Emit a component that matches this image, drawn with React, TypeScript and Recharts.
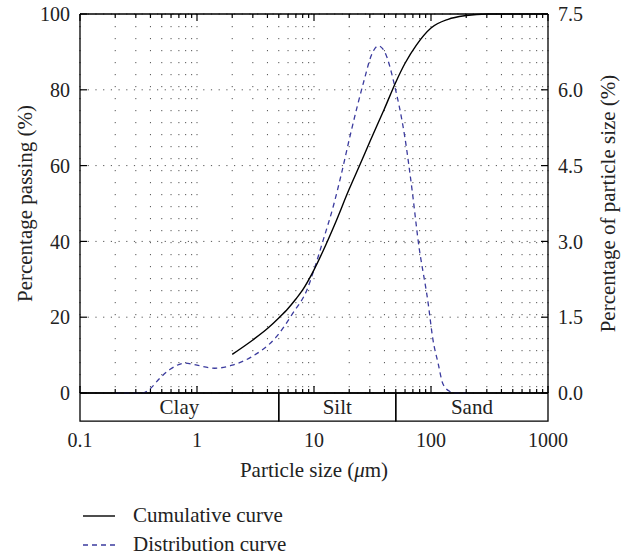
import React from 'react';
import { ComposedChart, Line, XAxis, YAxis, CartesianGrid, ReferenceArea } from 'recharts';

// Cumulative curve (particle size in µm, percentage passing)
const cumulativeSize = [2, 3, 4, 5, 6, 7, 8, 10, 12, 15, 20, 25, 30, 40, 50, 60, 75, 100, 140, 200, 300, 1000];
const cumulativePassing = [10.2, 14, 17, 19.8, 22.3, 24.8, 27.2, 32.5, 37.6, 44.4, 53.8, 60.6, 66.3, 75, 82, 87, 91.8, 96.3, 98.6, 99.6, 100, 100];

// Distribution curve (particle size in µm, percentage of particle size)
const distributionSize = [
  0.2, 0.34, 0.4, 0.48, 0.59, 0.79, 1.0, 1.42, 2.0, 2.9, 4.8, 6.6, 8.7, 10.2, 12, 14.6, 17.2, 20.3,
  26.9, 31, 35.4, 40, 49, 59.6, 70, 77.5, 94.5, 104, 115, 126, 145, 160, 200,
];
const distributionPercent = [
  0, 0, 0.09, 0.29, 0.47, 0.59, 0.55, 0.49, 0.55, 0.71, 1.12, 1.58, 2.04, 2.5, 3.03, 3.69, 4.35, 5.08,
  6.2, 6.69, 6.87, 6.76, 6.07, 5.08, 3.89, 3.03, 1.78, 1.05, 0.59, 0.19, 0.03, 0, 0,
];

const sizeTicks = [
  0.1, 0.2, 0.3, 0.4, 0.5, 0.6, 0.7, 0.8, 0.9,
  1, 2, 3, 4, 5, 6, 7, 8, 9,
  10, 20, 30, 40, 50, 60, 70, 80, 90,
  100, 200, 300, 400, 500, 600, 700, 800, 900,
  1000,
];
const majorTicks = [0.1, 1, 10, 100, 1000];
const passingTicks = [0, 20, 40, 60, 80, 100];
const percentTicks = [0, 1.5, 3, 4.5, 6, 7.5];

const soilNames = ['Clay', 'Silt', 'Sand'];
const soilEdges = [0.1, 5, 50, 1000];

const cumulativeData = cumulativeSize.map((x, i) => ({ x, y: cumulativePassing[i] }));
const distributionData = distributionSize.map((x, i) => ({ x, y: distributionPercent[i] }));

const FONT = '"Liberation Serif", "DejaVu Serif", serif';
const BLUE = '#3b3b9e';
const TICK_SIZE = 20;
const TEXT_SIZE = 21;

const BottomTick = (props: any) => {
  const { x, y, payload } = props;
  const major = majorTicks.includes(payload.value);
  return (
    <g>
      <line x1={x} x2={x} y1={y} y2={y - (major ? 7 : 4)} stroke="#000" strokeWidth={1.2} />
      {major && (
        <text x={x} y={y + 54} textAnchor="middle" fontSize={TICK_SIZE} fontFamily={FONT} fill="#222">
          {String(payload.value)}
        </text>
      )}
    </g>
  );
};

const TopTick = (props: any) => {
  const { x, y, payload } = props;
  const major = majorTicks.includes(payload.value);
  return <line x1={x} x2={x} y1={y} y2={y + (major ? 7 : 4)} stroke="#000" strokeWidth={1.2} />;
};

// x-axis title with an italic mu
const SizeLabel = (props: any) => {
  const { x, y, width, height } = props.viewBox;
  return (
    <text x={x + width / 2} y={y + height / 2 + 2} textAnchor="middle" fontSize={TEXT_SIZE} fontFamily={FONT} fill="#222">
      Particle size (<tspan fontStyle="italic">μ</tspan>m)
    </text>
  );
};

export default function App() {
  return (
    <div style={{ position: 'relative', width: 633, height: 557 }}>
      <style>{'body{margin:0}'}</style>
      <ComposedChart width={633} height={557} margin={{ top: 4, right: 0, bottom: 0, left: 0 }}>
        <CartesianGrid
          xAxisId={0}
          yAxisId="left"
          horizontal={false}
          stroke="#555"
          strokeDasharray="1.2 10.8"
        />
        <CartesianGrid
          xAxisId={0}
          yAxisId="left"
          vertical={false}
          stroke="#555"
          strokeDasharray="1.2 6.5"
        />
        <XAxis
          xAxisId={0}
          dataKey="x"
          type="number"
          scale="log"
          domain={[0.1, 1000]}
          ticks={sizeTicks}
          allowDataOverflow
          height={164}
          tickSize={0}
          tickMargin={0}
          tickLine={false}
          interval={0}
          tick={<BottomTick />}
          axisLine={{ stroke: '#000', strokeWidth: 1.3 }}
          label={{ position: 'center', content: (p: any) => <SizeLabel {...p} /> }}
        />
        <XAxis
          xAxisId="top"
          orientation="top"
          dataKey="x"
          type="number"
          scale="log"
          domain={[0.1, 1000]}
          ticks={sizeTicks}
          allowDataOverflow
          height={10}
          tickSize={0}
          tickMargin={0}
          tickLine={false}
          interval={0}
          tick={<TopTick />}
          axisLine={{ stroke: '#000', strokeWidth: 1.3 }}
        />
        <YAxis
          yAxisId="left"
          width={80}
          domain={[0, 100]}
          ticks={passingTicks}
          interval={0}
          tickSize={-7}
          tickMargin={17}
          tickLine={{ stroke: '#000', strokeWidth: 1.2 }}
          axisLine={{ stroke: '#000', strokeWidth: 1.3 }}
          tick={{ fontSize: TICK_SIZE, fontFamily: FONT, fill: '#222' }}
          label={{
            value: 'Percentage passing (%)',
            angle: -90,
            position: 'center',
            dx: -15,
            fontSize: TEXT_SIZE,
            fontFamily: FONT,
            fill: '#222',
          }}
        />
        <YAxis
          yAxisId="right"
          orientation="right"
          width={85}
          domain={[0, 7.5]}
          ticks={percentTicks}
          interval={0}
          tickSize={-7}
          tickMargin={17}
          tickFormatter={(v: number) => v.toFixed(1)}
          tickLine={{ stroke: '#000', strokeWidth: 1.2 }}
          axisLine={{ stroke: '#000', strokeWidth: 1.3 }}
          tick={{ fontSize: TICK_SIZE, fontFamily: FONT, fill: '#222' }}
          label={{
            value: 'Percentage of particle size (%)',
            angle: -90,
            position: 'center',
            dx: 17,
            fontSize: TEXT_SIZE,
            fontFamily: FONT,
            fill: '#222',
          }}
        />
        {soilNames.map((name, i) => (
          <ReferenceArea
            key={name}
            xAxisId={0}
            yAxisId="left"
            x1={soilEdges[i]}
            x2={soilEdges[i + 1]}
            y1={-7.4}
            y2={0}
            ifOverflow="visible"
            fill="none"
            fillOpacity={0}
            stroke="#000"
            strokeWidth={1.3}
            label={{ value: name, position: 'center', fontSize: TEXT_SIZE, fontFamily: FONT, fill: '#222' }}
          />
        ))}
        <Line
          xAxisId={0}
          yAxisId="right"
          data={distributionData}
          dataKey="y"
          type="monotone"
          stroke={BLUE}
          strokeWidth={1.3}
          strokeDasharray="5 4"
          dot={false}
          isAnimationActive={false}
        />
        <Line
          xAxisId={0}
          yAxisId="left"
          data={cumulativeData}
          dataKey="y"
          type="monotone"
          stroke="#000"
          strokeWidth={1.4}
          dot={false}
          isAnimationActive={false}
        />
      </ComposedChart>
      <svg
        width={633}
        height={557}
        style={{ position: 'absolute', left: 0, top: 0, pointerEvents: 'none' }}
      >
        <line x1={83} x2={115} y1={516} y2={516} stroke="#000" strokeWidth={1.4} />
        <text x={133} y={522} fontSize={TEXT_SIZE} fontFamily={FONT} fill="#222">
          Cumulative curve
        </text>
        <line x1={83} x2={115} y1={545} y2={545} stroke={BLUE} strokeWidth={1.3} strokeDasharray="5 4" />
        <text x={133} y={551} fontSize={TEXT_SIZE} fontFamily={FONT} fill="#222">
          Distribution curve
        </text>
      </svg>
    </div>
  );
}
